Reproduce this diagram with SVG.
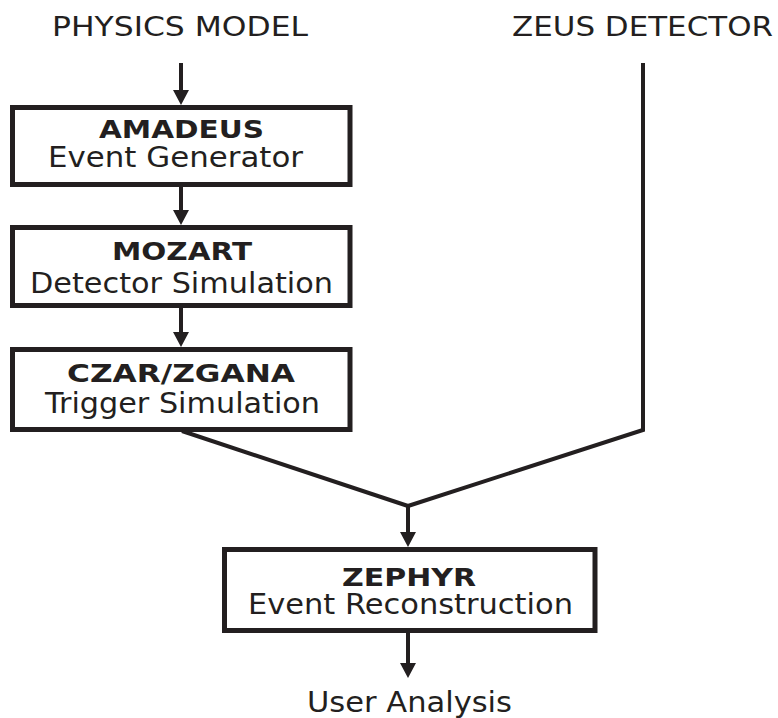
<svg xmlns="http://www.w3.org/2000/svg" width="778" height="718" viewBox="0 0 778 718">
<defs>
<marker id="ah" viewBox="0 0 15 16" refX="7" refY="8" markerWidth="15" markerHeight="16" markerUnits="userSpaceOnUse" orient="auto">
<path d="M0,0 L15,8 L0,16 z" fill="#231f20"/>
</marker>
<style>
.box{fill:#fff;stroke:#231f20;stroke-width:5}
.ln{fill:none;stroke:#231f20;stroke-width:4;stroke-linejoin:miter}
.t{font-family:"DejaVu Sans","Liberation Sans",sans-serif;fill:#231f20;font-size:27.5px}
.h{font-family:"DejaVu Sans","Liberation Sans",sans-serif;fill:#231f20;font-size:26px}
.b{font-family:"DejaVu Sans","Liberation Sans",sans-serif;fill:#231f20;font-size:24.5px;font-weight:bold}
</style>
</defs>
<rect width="778" height="718" fill="#fff"/>
<g id="physics-model"><text class="h" x="52" y="36" textLength="256" lengthAdjust="spacingAndGlyphs">PHYSICS MODEL</text></g>
<g id="zeus-detector"><text class="h" x="512" y="36" textLength="261" lengthAdjust="spacingAndGlyphs">ZEUS DETECTOR</text></g>
<g id="amadeus">
<rect class="box" x="12.5" y="107.5" width="337.5" height="77"/>
<text class="b" x="99" y="138" textLength="165" lengthAdjust="spacingAndGlyphs">AMADEUS</text>
<text class="t" x="48" y="166.5" textLength="255" lengthAdjust="spacingAndGlyphs">Event Generator</text>
</g>
<g id="mozart">
<rect class="box" x="12.5" y="227.5" width="337.5" height="78"/>
<text class="b" x="112" y="260" textLength="140" lengthAdjust="spacingAndGlyphs">MOZART</text>
<text class="t" x="30" y="292.5" textLength="303" lengthAdjust="spacingAndGlyphs">Detector Simulation</text>
</g>
<g id="czar-zgana">
<rect class="box" x="12.5" y="349.5" width="337.5" height="80"/>
<text class="b" x="67" y="381.5" textLength="228" lengthAdjust="spacingAndGlyphs">CZAR/ZGANA</text>
<text class="t" x="45" y="413" textLength="275" lengthAdjust="spacingAndGlyphs">Trigger Simulation</text>
</g>
<g id="zephyr">
<rect class="box" x="224.5" y="549.5" width="370.5" height="81"/>
<text class="b" x="342" y="585.5" textLength="134" lengthAdjust="spacingAndGlyphs">ZEPHYR</text>
<text class="t" x="248" y="614" textLength="325" lengthAdjust="spacingAndGlyphs">Event Reconstruction</text>
</g>
<g id="user-analysis"><text class="t" x="307" y="711.5" textLength="205" lengthAdjust="spacingAndGlyphs">User Analysis</text></g>
<g id="connectors">
<line class="ln" x1="181" y1="63" x2="181" y2="97" marker-end="url(#ah)"/>
<line class="ln" x1="181" y1="187" x2="181" y2="217" marker-end="url(#ah)"/>
<line class="ln" x1="181" y1="308" x2="181" y2="339" marker-end="url(#ah)"/>
<polyline class="ln" points="643,63 643,430 408,506"/>
<polyline class="ln" points="182,431 408,506"/>
<line class="ln" x1="408" y1="505" x2="408" y2="539" marker-end="url(#ah)"/>
<line class="ln" x1="408" y1="633" x2="408" y2="670" marker-end="url(#ah)"/>
</g>
</svg>
